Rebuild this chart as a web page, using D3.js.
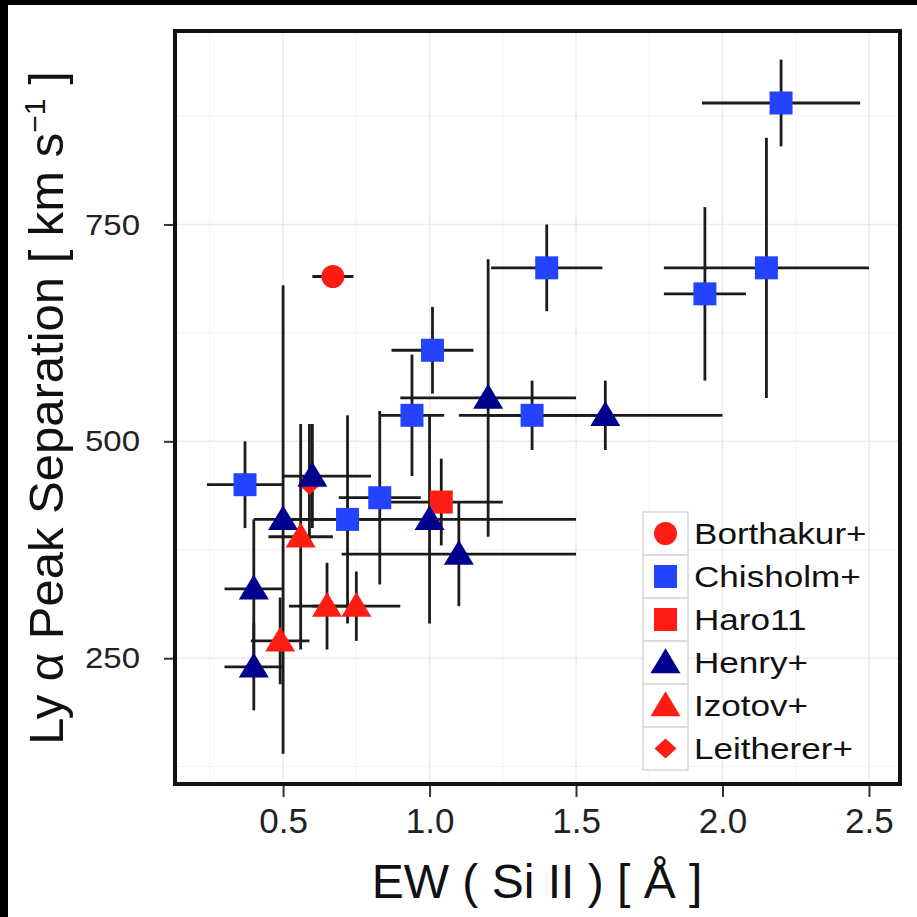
<!DOCTYPE html>
<html>
<head>
<meta charset="utf-8">
<script src="https://cdn.jsdelivr.net/npm/d3@7"></script>
<style>
body { margin: 0; background: #fff; }
svg { display: block; }
text { font-family: "Liberation Sans", Arial, sans-serif; }
</style>
</head>
<body>
<div id="chart"></div>
<script>
var groupNames = ["Borthakur+", "Chisholm+", "Haro11", "Henry+", "Izotov+", "Leitherer+"];

// one entry per galaxy: group, EW(Si II) with range, peak separation with range
// (Leitherer first so it sits under the Henry triangle, as in the figure)
var pointGroup = ["Leitherer+", "Borthakur+",
    "Chisholm+", "Chisholm+", "Chisholm+", "Chisholm+", "Chisholm+",
    "Chisholm+", "Chisholm+", "Chisholm+", "Chisholm+", "Chisholm+",
    "Haro11",
    "Henry+", "Henry+", "Henry+", "Henry+", "Henry+", "Henry+", "Henry+", "Henry+",
    "Izotov+", "Izotov+", "Izotov+", "Izotov+"];
var ewValues = [0.59, 0.67,
    2.20, 2.15, 1.94, 1.40, 1.01, 0.94, 1.35, 0.83, 0.72, 0.37,
    1.04,
    1.20, 1.60, 1.00, 1.10, 0.50, 0.60, 0.40, 0.40,
    0.49, 0.56, 0.65, 0.75];
var ewLow = [0.59, 0.60,
    1.93, 1.80, 1.80, 1.21, 0.87, 0.83, 1.10, 0.69, 0.60, 0.24,
    0.85,
    0.90, 1.20, 0.50, 0.70, 0.40, 0.50, 0.30, 0.30,
    0.39, 0.45, 0.52, 0.60];
var ewHigh = [0.59, 0.74,
    2.47, 2.50, 2.08, 1.59, 1.15, 1.05, 1.60, 0.97, 0.84, 0.50,
    1.25,
    1.50, 2.00, 1.50, 1.50, 0.60, 0.80, 0.50, 0.50,
    0.59, 0.67, 0.78, 0.90];
var sepValues = [450, 690,
    890, 700, 670, 700, 605, 530, 530, 435, 410, 450,
    430,
    550, 530, 410, 370, 410, 460, 330, 240,
    270, 390, 310, 310];
var sepLow = [380, 690,
    840, 550, 570, 650, 555, 460, 490, 335, 290, 400,
    380,
    390, 490, 290, 310, 140, 400, 250, 190,
    220, 260, 260, 270];
var sepHigh = [520, 690,
    940, 850, 770, 750, 655, 600, 570, 535, 530, 500,
    480,
    710, 570, 530, 430, 680, 520, 410, 290,
    320, 520, 360, 350];

var xTicks = [0.5, 1.0, 1.5, 2.0, 2.5];
var xMinor = [0.25, 0.75, 1.25, 1.75, 2.25];
var yTicks = [250, 500, 750];
var yMinor = [125, 375, 625, 875];

var W = 917, H = 917;
var panel = {left: 175, right: 900, top: 31, bottom: 784};

var red = "#fd1d12", blue = "#2443ff", navy = "#00008f";
var groupStyle = {
    "Borthakur+": {shape: "circle", color: red, size: 23},
    "Chisholm+": {shape: "square", color: blue, size: 23},
    "Haro11": {shape: "square", color: red, size: 23},
    "Henry+": {shape: "triangle", color: navy, size: 30},
    "Izotov+": {shape: "triangle", color: red, size: 30},
    "Leitherer+": {shape: "diamond", color: red, size: 22}
};

// marker shapes, size = width in px
var shapes = {
    circle: {draw: function(ctx, s) { ctx.moveTo(s / 2, 0); ctx.arc(0, 0, s / 2, 0, 2 * Math.PI); }},
    square: {draw: function(ctx, s) { ctx.rect(-s / 2, -s / 2, s, s); }},
    triangle: {draw: function(ctx, s) {
        var h = s * 0.83;
        ctx.moveTo(0, -h * 0.57);
        ctx.lineTo(s / 2, h * 0.43);
        ctx.lineTo(-s / 2, h * 0.43);
        ctx.closePath();
    }},
    diamond: {draw: function(ctx, s) {
        ctx.moveTo(0, -s / 2.2); ctx.lineTo(s / 2, 0); ctx.lineTo(0, s / 2.2); ctx.lineTo(-s / 2, 0); ctx.closePath();
    }}
};

function symbolPath(group) {
    var st = groupStyle[group];
    return d3.symbol().type(shapes[st.shape]).size(st.size)();
}

var points = ewValues.map(function(v, i) {
    return {group: pointGroup[i], x: v, xlo: ewLow[i], xhi: ewHigh[i],
            y: sepValues[i], ylo: sepLow[i], yhi: sepHigh[i]};
});

var svg = d3.select("#chart").append("svg")
    .attr("width", W)
    .attr("height", H);

svg.append("rect").attr("width", W).attr("height", H).attr("fill", "#fff");

var x = d3.scaleLinear().domain([0.131, 2.606]).range([panel.left, panel.right]);
var y = d3.scaleLinear().domain([105, 973]).range([panel.bottom, panel.top]);

// grid
var grid = svg.append("g");
grid.selectAll(".vminor").data(xMinor).enter().append("line")
    .attr("x1", x).attr("x2", x).attr("y1", panel.top).attr("y2", panel.bottom)
    .attr("stroke", "#f3f3f3").attr("stroke-width", 1);
grid.selectAll(".hminor").data(yMinor).enter().append("line")
    .attr("y1", y).attr("y2", y).attr("x1", panel.left).attr("x2", panel.right)
    .attr("stroke", "#f3f3f3").attr("stroke-width", 1);
grid.selectAll(".vmajor").data(xTicks).enter().append("line")
    .attr("x1", x).attr("x2", x).attr("y1", panel.top).attr("y2", panel.bottom)
    .attr("stroke", "#ececec").attr("stroke-width", 1.5);
grid.selectAll(".hmajor").data(yTicks).enter().append("line")
    .attr("y1", y).attr("y2", y).attr("x1", panel.left).attr("x2", panel.right)
    .attr("stroke", "#ececec").attr("stroke-width", 1.5);

// error bars
var bars = svg.append("g").attr("stroke", "#1b1b1b").attr("stroke-width", 2.8);
bars.selectAll(".hbar").data(points.filter(function(d) { return d.xhi > d.xlo; })).enter().append("line")
    .attr("x1", function(d) { return x(d.xlo); })
    .attr("x2", function(d) { return x(d.xhi); })
    .attr("y1", function(d) { return y(d.y); })
    .attr("y2", function(d) { return y(d.y); });
bars.selectAll(".vbar").data(points.filter(function(d) { return d.yhi > d.ylo; })).enter().append("line")
    .attr("x1", function(d) { return x(d.x); })
    .attr("x2", function(d) { return x(d.x); })
    .attr("y1", function(d) { return y(d.ylo); })
    .attr("y2", function(d) { return y(d.yhi); });

// points
svg.append("g").selectAll("path").data(points).enter().append("path")
    .attr("d", function(d) { return symbolPath(d.group); })
    .attr("transform", function(d) { return "translate(" + x(d.x) + "," + y(d.y) + ")"; })
    .attr("fill", function(d) { return groupStyle[d.group].color; });

// legend
var legend = svg.append("g").attr("transform", "translate(643,512)");
var rows = legend.selectAll("g").data(groupNames).enter().append("g")
    .attr("transform", function(d, i) { return "translate(0," + (i * 43) + ")"; });
rows.append("rect").attr("width", 45).attr("height", 43)
    .attr("fill", "#fff").attr("stroke", "#d6d6d6").attr("stroke-width", 1.5);
rows.append("path")
    .attr("d", function(d) { return symbolPath(d); })
    .attr("transform", "translate(22.5,21.5)")
    .attr("fill", function(d) { return groupStyle[d].color; });
rows.append("text")
    .attr("transform", "translate(51,32) scale(1.17,1)")
    .attr("font-size", 30)
    .attr("fill", "#111")
    .text(function(d) { return d; });

// panel border
svg.append("rect")
    .attr("x", panel.left).attr("y", panel.top)
    .attr("width", panel.right - panel.left).attr("height", panel.bottom - panel.top)
    .attr("fill", "none").attr("stroke", "#111").attr("stroke-width", 4);

// axes
var xAxis = svg.append("g")
    .attr("transform", "translate(0," + (panel.bottom + 2) + ")")
    .call(d3.axisBottom(x).tickValues(xTicks).tickFormat(d3.format(".1f")).tickSize(11).tickPadding(11));
var yAxis = svg.append("g")
    .attr("transform", "translate(" + (panel.left - 2) + ",0)")
    .call(d3.axisLeft(y).tickValues(yTicks).tickSize(9).tickPadding(24));
[xAxis, yAxis].forEach(function(a) {
    a.select(".domain").remove();
    a.selectAll(".tick line").attr("stroke", "#333").attr("stroke-width", 2);
    a.selectAll("text").attr("fill", "#222").attr("font-family", "Liberation Sans, Arial, sans-serif");
});
xAxis.selectAll("text").attr("font-size", 35);
yAxis.selectAll("text").attr("font-size", 30).attr("textLength", 55).attr("lengthAdjust", "spacingAndGlyphs");

// axis titles
svg.append("text")
    .attr("x", 537).attr("y", 898)
    .attr("text-anchor", "middle")
    .attr("font-size", 48)
    .attr("fill", "#111")
    .text("EW ( Si II ) [ Å ]");

var yTitle = svg.append("text")
    .attr("transform", "translate(63,408) rotate(-90)")
    .attr("text-anchor", "middle")
    .attr("font-size", 49)
    .attr("fill", "#111");
yTitle.append("tspan").text("Ly \u03b1 Peak Separation [ km s");
yTitle.append("tspan").attr("dy", -18).attr("font-size", 30).text("\u22121");
yTitle.append("tspan").attr("dy", 18).text(" ]");

// black strips at the edge of the figure
svg.append("rect").attr("x", 0).attr("y", 0).attr("width", 8).attr("height", H).attr("fill", "#000");
svg.append("rect").attr("x", 0).attr("y", 0).attr("width", W).attr("height", 5).attr("fill", "#000");
</script>
</body>
</html>
